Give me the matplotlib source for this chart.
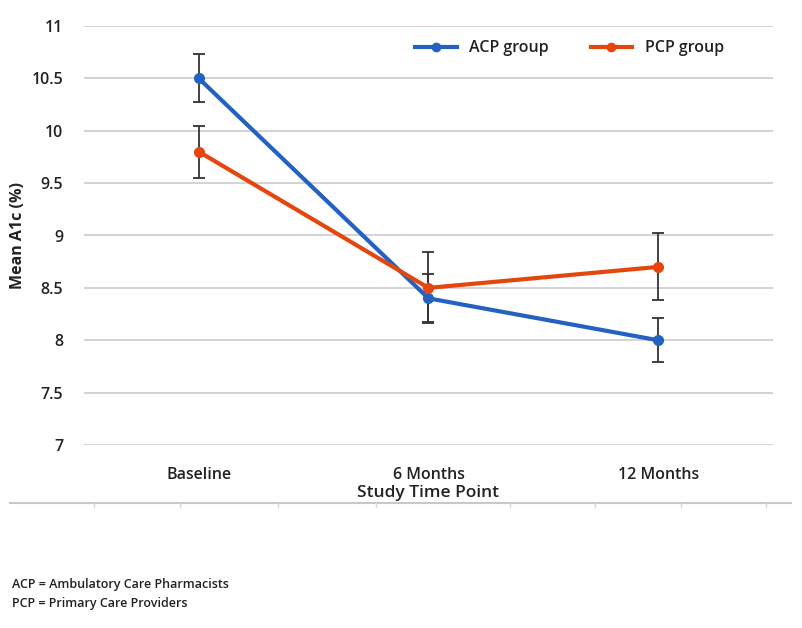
import matplotlib.pyplot as plt
from matplotlib.lines import Line2D

plt.rcParams['font.family'] = ['Open Sans', 'DejaVu Sans']

# data
time_points = ['Baseline', '6 Months', '12 Months']
acp_mean = [10.5, 8.4, 8.0]
acp_err = [0.23, 0.23, 0.21]
pcp_mean = [9.8, 8.5, 8.7]
pcp_err = [0.25, 0.34, 0.32]

blue = '#2462c2'
orange = '#e4470e'
txt = '#222222'

fig = plt.figure(figsize=(8.03, 6.28), dpi=100)
ax = fig.add_axes([0.1046, 0.2914, 0.858, 0.6672])

x = range(len(time_points))
ax.errorbar(x, acp_mean, yerr=acp_err, color=blue, lw=3, marker='o', ms=7,
            ecolor='#333333', elinewidth=1.3, capsize=4, capthick=1.3,
            label='ACP group', zorder=3)
ax.errorbar(x, pcp_mean, yerr=pcp_err, color=orange, lw=3, marker='o', ms=7,
            ecolor='#333333', elinewidth=1.3, capsize=4, capthick=1.3,
            label='PCP group', zorder=3)

ax.set_xlim(-0.5, 2.5)
ax.set_ylim(7, 11)
ax.set_yticks([7, 7.5, 8, 8.5, 9, 9.5, 10, 10.5, 11])
ax.set_yticklabels(['7', '7.5', '8', '8.5', '9', '9.5', '10', '10.5', '11'])
ax.set_xticks(list(x))
ax.set_xticklabels(time_points)
ax.grid(axis='y', color='#d0d0d0', lw=1.3)
ax.set_axisbelow(True)
for s in ax.spines.values():
    s.set_visible(False)
ax.tick_params(length=0, labelsize=11.5, colors=txt)
ax.tick_params(axis='x', pad=16)
ax.tick_params(axis='y', pad=15)
for lab in ax.get_xticklabels() + ax.get_yticklabels():
    lab.set_fontweight('semibold')

ax.set_ylabel('Mean A1c (%)', fontsize=11.5, color=txt, fontweight='bold', labelpad=4)
ax.set_xlabel('Study Time Point', fontsize=12.5, color=txt, fontweight='semibold', labelpad=1)

labels = ['ACP group', 'PCP group']
handles = [Line2D([], [], color=blue, lw=3, marker='o', ms=6),
           Line2D([], [], color=orange, lw=3, marker='o', ms=6)]
leg = ax.legend(handles, labels, loc='upper center', bbox_to_anchor=(0.705, 1.0), ncol=2,
                frameon=False, fontsize=11.5, handlelength=2.6, columnspacing=2.6,
                labelcolor=txt)
for t in leg.get_texts():
    t.set_fontweight('semibold')

# separator line under the chart
fig.add_artist(Line2D([0.012, 0.985], [0.199, 0.199], color='#c8c8c8', lw=1.5))
for tx in [0.117, 0.224, 0.346, 0.468, 0.635, 0.741, 0.848, 0.954]:
    fig.add_artist(Line2D([tx, tx], [0.199, 0.192], color='#d8d8d8', lw=1))

fig.text(0.015, 0.063, 'ACP = Ambulatory Care Pharmacists', fontsize=9, color=txt, fontweight='semibold')
fig.text(0.015, 0.034, 'PCP = Primary Care Providers', fontsize=9, color=txt, fontweight='semibold')

fig.savefig('out.png', dpi=100)
